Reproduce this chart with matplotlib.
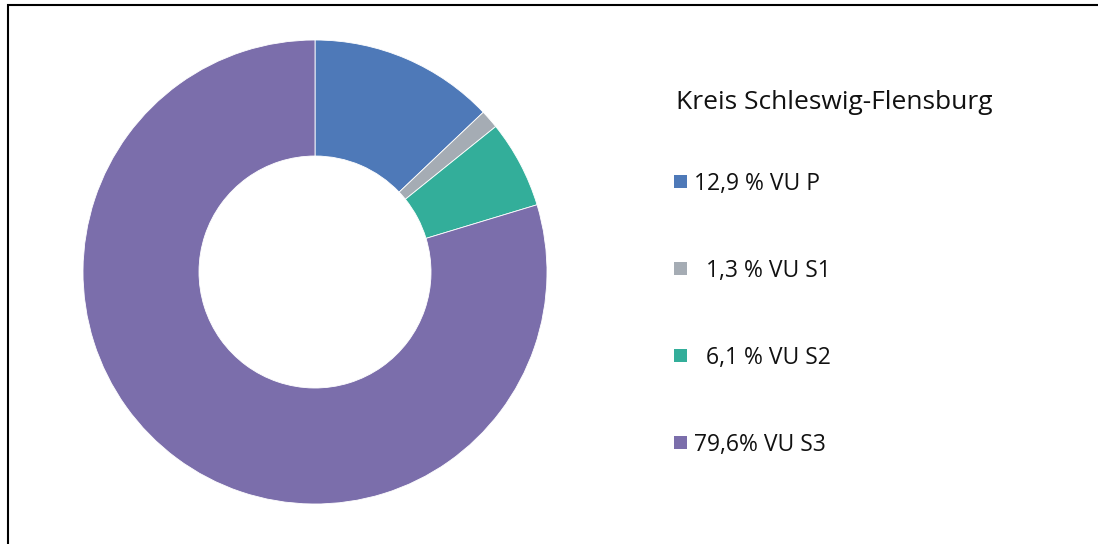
import matplotlib
matplotlib.use('Agg')
import matplotlib.pyplot as plt
from matplotlib.patches import Rectangle

# data
labels = ['12,9 % VU P', '  1,3 % VU S1', '  6,1 % VU S2', '79,6% VU S3']
shares = [12.9, 1.3, 6.1, 79.6]
colors = ['#4E79B8', '#A5ACB4', '#33AE9A', '#7B6EAB']
title = 'Kreis Schleswig-Flensburg'

plt.rcParams['font.family'] = ['Open Sans', 'DejaVu Sans']

W, H = 1098, 544
fig = plt.figure(figsize=(W / 100, H / 100), dpi=100)

# frame around the chart (right and bottom sides are cut off)
fig.patches.append(Rectangle((8 / W, -0.1), 1.2, (H - 5) / H + 0.1,
                             transform=fig.transFigure, fill=False,
                             edgecolor='black', linewidth=1.5))

# donut
cx, cy, r = 315, 272, 232
ax = fig.add_axes([(cx - r) / W, (H - cy - r) / H, 2 * r / W, 2 * r / H])
wedges, _ = ax.pie(shares, colors=colors, startangle=90, counterclock=False,
                   wedgeprops=dict(width=0.5, edgecolor='white', linewidth=0.6))
ax.set_xlim(-1, 1)
ax.set_ylim(-1, 1)
ax.axis('off')

# legend
fig.text(676 / W, 1 - 109 / H, title, fontsize=19, va='baseline', ha='left',
         color='#111111')
for i, (lab, col) in enumerate(zip(labels, colors)):
    base = 190 + i * 87
    fig.patches.append(Rectangle((674 / W, 1 - (base - 2) / H), 13 / W, 13 / H,
                                 transform=fig.transFigure, facecolor=col,
                                 edgecolor='none'))
    fig.text(694 / W, 1 - base / H, lab, fontsize=16.5, va='baseline', ha='left',
             color='#111111')

fig.savefig('out.png', dpi=100)
